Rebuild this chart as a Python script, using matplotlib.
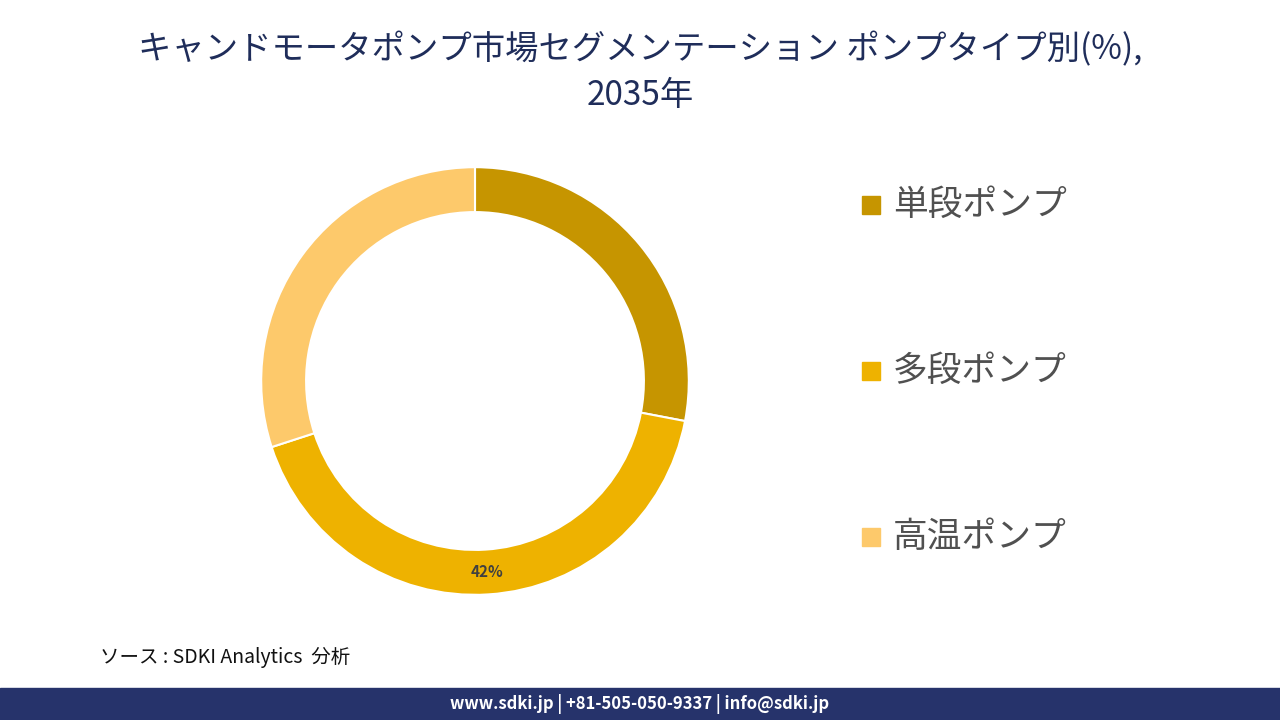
import numpy as np
import matplotlib.pyplot as plt
from matplotlib.patches import Rectangle

plt.rcParams['font.family'] = ['Noto Sans CJK JP', 'DejaVu Sans']

labels = ["単段ポンプ", "多段ポンプ", "高温ポンプ"]
shares = [28, 42, 30]
colors = ["#c69500", "#eeb200", "#fdc96b"]
shown = [False, True, False]

fig = plt.figure(figsize=(12.8, 7.2), dpi=100)

# donut
w_ax, h_ax = 0.4176, 0.7424
ax = fig.add_axes([475 / 1280 - w_ax / 2, 1 - 381 / 720 - h_ax / 2, w_ax, h_ax])
wedges, _ = ax.pie(shares, colors=colors, startangle=90, counterclock=False,
                   radius=1.0, wedgeprops=dict(width=0.21, edgecolor="white", linewidth=1.5))
ax.set_aspect("equal")
for w, s, show in zip(wedges, shares, shown):
    if not show:
        continue
    ang = np.deg2rad((w.theta1 + w.theta2) / 2)
    ax.text(0.895 * np.cos(ang), 0.895 * np.sin(ang), f"{s}%", ha="center", va="center",
            fontsize=11, fontweight="bold", color="#404040")

# legend
for i, (lab, c) in enumerate(zip(labels, colors)):
    y = 1 - (205 + i * 166) / 720
    fig.patches.append(Rectangle((862 / 1280, y - 0.0125), 18 / 1280, 18 / 720,
                                 transform=fig.transFigure, color=c))
    fig.text(893 / 1280, y, lab, fontsize=25, color="#505050", va="center")

fig.text(0.5, 1 - 50 / 720, "キャンドモータポンプ市場セグメンテーション ポンプタイプ別(%),",
         ha="center", va="center", fontsize=24, color="#1f2d5a")
fig.text(0.5, 1 - 96 / 720, "2035年", ha="center", va="center", fontsize=24, color="#1f2d5a")

fig.text(100 / 1280, 1 - 658 / 720, "ソース : SDKI Analytics  分析", fontsize=14,
         style="italic", va="center", color="#111111")

fig.patches.append(Rectangle((0, 0), 1, 32 / 720, transform=fig.transFigure, color="#26336b"))
fig.text(0.5, 16 / 720, "www.sdki.jp | +81-505-050-9337 | info@sdki.jp", ha="center",
         va="center", fontsize=12, fontweight="bold", color="white")

fig.savefig("out.png")
